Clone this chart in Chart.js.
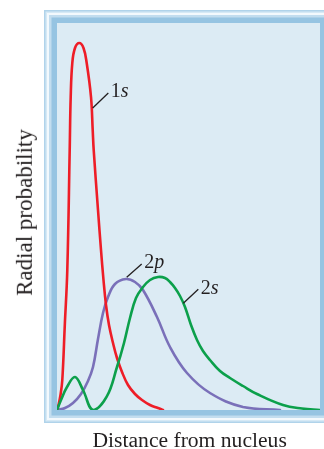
<!DOCTYPE html>
<html>
<head>
<meta charset="utf-8">
<script src="https://cdn.jsdelivr.net/npm/chart.js@4.4.1/dist/chart.umd.min.js"></script>
<style>
  html,body{margin:0;padding:0;background:#fff;}
  #wrap{position:relative;width:324px;height:449px;overflow:hidden;}
  .txt{position:absolute;font-family:"Liberation Serif","Times New Roman",serif;color:#231f20;white-space:nowrap;line-height:1;}
  #xTitle{font-size:21.6px;}
  #yTitle{font-size:23px;}
  .lbl{font-size:20px;}
  .lbl i{font-style:italic;}
</style>
</head>
<body>
<div id="wrap">
  <canvas id="c"></canvas>
  <div class="txt" id="xTitle">Distance from nucleus</div>
  <div class="txt" id="yTitle">Radial probability</div>
</div>
<script>
// Radial probability curves (arbitrary units).
// x = distance from nucleus, y = radial probability.
const S1_X = [0,0.15,0.35,0.53,0.78,1.03,1.27,1.37,1.53,1.8,2.23,2.65,2.97,3.4,3.57,3.67,4.1,4.4,4.65,4.9,5.2,5.6,6.0,6.5,7.1,7.8,8.5,9.3,10.1,10.6];
const S1_Y = [0,0.5,1.5,3.0,8.5,14.0,26.0,31.3,34.7,36.2,36.7,36.2,34.7,31.3,28.0,26.0,20.0,16.0,13.0,10.5,8.5,6.7,5.2,3.8,2.5,1.6,1.0,0.5,0.2,0];

const P2_X = [0,0.8,1.6,2.4,3.1,3.6,4.1,4.6,5.1,5.8,6.9,7.8,8.6,10.0,11.3,13.0,15.3,18.6,22.3];
const P2_Y = [0,0.2,0.7,1.6,2.9,4.3,7.1,9.7,11.3,12.6,13.1,12.8,12.0,9.3,6.3,3.7,1.7,0.3,0];

const S2_X = [0,0.4,1.0,1.8,2.6,3.6,4.97,6.0,6.7,7.3,7.9,8.6,9.3,10.1,10.8,11.3,11.8,12.3,12.8,13.4,14.0,14.6,15.3,16.3,17.3,18.6,20.0,22.6,24.5,26.3];
const S2_Y = [0,1.0,2.3,3.3,2.0,0,1.33,4.3,6.7,9.2,11.2,12.3,13.0,13.3,13.2,12.8,12.2,11.4,10.3,8.5,7.0,5.9,5.0,3.9,3.2,2.4,1.6,0.5,0.15,0];

const X_MAX = 26.3, Y_MAX = 38.7;

// Curve labels: name, leader line from (x0,y0) on the curve to (x1,y1).
const LABEL_NAMES = ['1s','2p','2s'];
const LEADER_FROM = [[3.57,30.2],[6.97,13.27],[12.63,10.67]];
const LEADER_TO   = [[5.13,31.7],[8.47,14.6],[14.13,12.07]];

const pts=(xs,ys)=>xs.map((x,i)=>({x:x,y:ys[i]}));

const frame = {
  id:'frame',
  beforeDraw(ch){
    const {ctx,chartArea:a}=ch;
    const bands=[[13,'#b0d3ea'],[11.5,'#d6e9f5'],[10,'#f3f9fd'],[8,'#c2ddef'],[5.5,'#96c4e2']];
    ctx.save();
    bands.forEach(([d,c])=>{ctx.fillStyle=c;ctx.fillRect(a.left-d,a.top-d,a.right-a.left+2*d,a.bottom-a.top+2*d);});
    ctx.fillStyle='#dcebf4';
    ctx.fillRect(a.left,a.top,a.right-a.left,a.bottom-a.top);
    ctx.restore();
  },
  afterDatasetsDraw(ch){
    const {ctx,scales:{x,y}}=ch;
    ctx.save();
    ctx.strokeStyle='#231f20';ctx.lineWidth=1.3;
    LABEL_NAMES.forEach((n,i)=>{
      const f=LEADER_FROM[i],t=LEADER_TO[i];
      ctx.beginPath();
      ctx.moveTo(x.getPixelForValue(f[0]),y.getPixelForValue(f[1]));
      ctx.lineTo(x.getPixelForValue(t[0]),y.getPixelForValue(t[1]));
      ctx.stroke();
    });
    ctx.restore();
  },
  afterRender(ch){
    const {chartArea:a,scales:{x,y}}=ch;
    const xt=document.getElementById('xTitle');
    xt.style.left=((a.left+a.right)/2+1-xt.offsetWidth/2)+'px';
    xt.style.top=(a.bottom+20)+'px';
    const yt=document.getElementById('yTitle');
    yt.style.left=(24-yt.offsetWidth/2)+'px';
    yt.style.top=((a.top+a.bottom)/2-4-yt.offsetHeight/2)+'px';
    yt.style.transform='rotate(-90deg)';
    LABEL_NAMES.forEach((n,i)=>{
      let el=document.getElementById('lbl'+i);
      if(!el){
        el=document.createElement('div');el.id='lbl'+i;el.className='txt lbl';
        el.innerHTML=n[0]+'<i>'+n.slice(1)+'</i>';
        document.getElementById('wrap').appendChild(el);
      }
      const t=LEADER_TO[i];
      el.style.left=(x.getPixelForValue(t[0])+2.5)+'px';
      el.style.top=(y.getPixelForValue(t[1])+4-16.75)+'px';
    });
  }
};

const ds=(data,color)=>({data,borderColor:color,borderWidth:2.6,pointRadius:0,fill:false,
  tension:0.4,borderCapStyle:'round',borderJoinStyle:'round'});

new Chart(document.getElementById('c'),{
  type:'line',
  data:{datasets:[
    ds(pts(S2_X,S2_Y),'#0ca04b'),
    ds(pts(S1_X,S1_Y),'#ee1d27'),
    ds(pts(P2_X,P2_Y),'#7a70b9')
  ]},
  options:{
    responsive:true,maintainAspectRatio:false,animation:false,
    layout:{padding:{left:57,top:23,right:4,bottom:39}},
    plugins:{legend:{display:false},tooltip:{enabled:false}},
    scales:{
      x:{type:'linear',min:0,max:X_MAX,display:false},
      y:{type:'linear',min:0,max:Y_MAX,display:false}
    }
  },
  plugins:[frame]
});
</script>
</body>
</html>
